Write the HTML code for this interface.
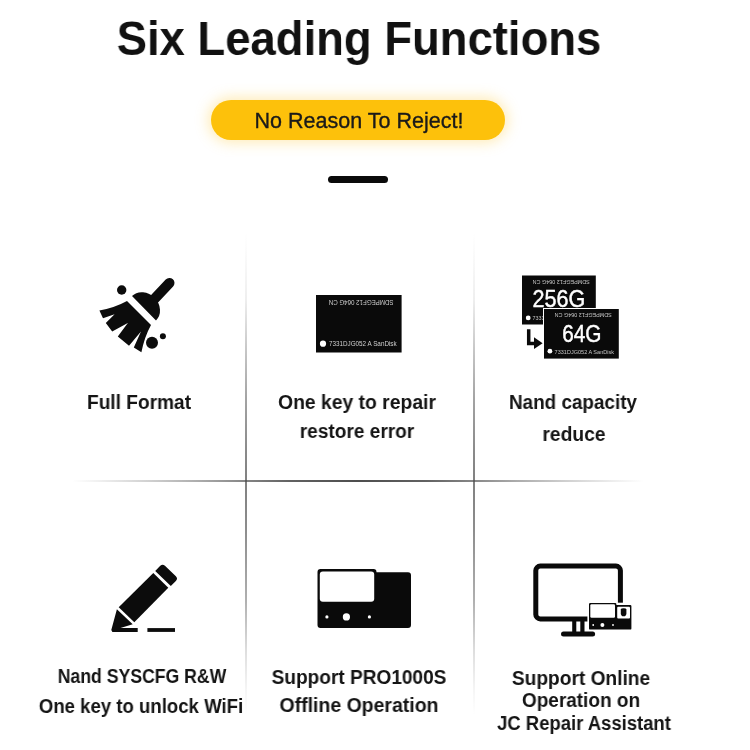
<!DOCTYPE html>
<html lang="en">
<head>
<meta charset="utf-8">
<title>Six Leading Functions</title>
<style>
*{margin:0;padding:0;box-sizing:border-box}
html,body{width:750px;height:750px;background:#fff;overflow:hidden}
body{position:relative;font-family:"Liberation Sans",sans-serif;color:#151515}
.abs{position:absolute}
.t{will-change:transform;position:absolute;white-space:nowrap;text-align:center;font-weight:bold;color:#141414;font-size:19.5px;line-height:20px;transform:translateX(-50%)}
#title{will-change:transform;position:absolute;left:-16.5px;width:750px;top:11.0px;transform:scaleX(0.9465);text-align:center;font-weight:bold;font-size:48px;line-height:56px;color:#111;white-space:nowrap}
#pill{position:absolute;left:210.5px;top:99.8px;width:294.5px;height:39.8px;border-radius:20px;background:#fdc10b;box-shadow:0 0 13px 3px rgba(255,205,70,.38)}
#pt{will-change:transform;position:absolute;white-space:nowrap;left:358.8px;top:109px;font-size:21.5px;line-height:24px;color:#1a1a1a;-webkit-text-stroke:.35px #1a1a1a;transform:translateX(-50%) scaleX(1.001)}
#dash{position:absolute;left:328px;top:176px;width:60px;height:7.2px;border-radius:4px;background:#0a0a0a}
.vl{position:absolute;width:1.9px;top:232px;height:483px;background:linear-gradient(to bottom,rgba(72,72,72,0.000) 0px,rgba(72,72,72,0.020) 18px,rgba(72,72,72,0.090) 68px,rgba(72,72,72,0.310) 118px,rgba(72,72,72,0.505) 168px,rgba(72,72,72,0.635) 218px,rgba(72,72,72,0.690) 248px,rgba(72,72,72,0.625) 298px,rgba(72,72,72,0.435) 368px,rgba(72,72,72,0.185) 418px,rgba(72,72,72,0.050) 458px,rgba(72,72,72,0.000) 483px)}
#hl{position:absolute;height:2px;left:72px;width:572px;top:480px;background:linear-gradient(to right,rgba(72,72,72,0.000) 0px,rgba(72,72,72,0.085) 28px,rgba(72,72,72,0.260) 78px,rgba(72,72,72,0.460) 128px,rgba(72,72,72,0.670) 174px,rgba(72,72,72,0.860) 218px,rgba(72,72,72,0.970) 286px,rgba(72,72,72,0.860) 354px,rgba(72,72,72,0.670) 398px,rgba(72,72,72,0.460) 444px,rgba(72,72,72,0.260) 494px,rgba(72,72,72,0.085) 544px,rgba(72,72,72,0.000) 572px)}
svg{position:absolute;left:0;top:0;will-change:transform}
</style>
</head>
<body>
<div id="title">Six Leading Functions</div>
<div id="pill"></div>
<div id="pt">No Reason To Reject!</div>
<div id="dash"></div>
<div class="vl" style="left:245px"></div>
<div class="vl" style="left:473px"></div>
<div id="hl"></div>

<svg width="750" height="750" viewBox="0 0 750 750">
<!-- broom -->
<g transform="translate(90,270)" fill="#0c0c0c">
  <line x1="79.4" y1="13" x2="62" y2="31.5" stroke="#0c0c0c" stroke-width="10.2" stroke-linecap="round"/>
  <path d="M42 26 A17.1 14.8 45 0 1 66 50.4 Z"/>
  <path d="M37 31 L61 55 Q54.6 66.6 51.4 82.2 L43.8 77.4 L51 61.4 L39 75.8 L27.8 66.6 L37.8 53 L22.2 61.4 L15.8 53 L24.6 44.2 L13 48.2 L9.4 40.6 Q25 37.6 37 31 Z"/>
  <circle cx="31.7" cy="20" r="4.7"/>
  <circle cx="62" cy="72.7" r="6"/>
  <circle cx="72.9" cy="66.3" r="3"/>
</g>
<!-- pencil -->
<g transform="translate(100,555)" fill="#0c0c0c">
  <path d="M55.2 15.9 L60.27 10.83 A3.3 3.3 0 0 1 64.93 10.83 L75.87 21.37 A3.3 3.3 0 0 1 75.87 26.03 L70.8 31.1 Z"/>
  <path d="M53.3 17.9 L68.3 32.7 L34.3 67.3 L18.7 52.3 Z"/>
  <path d="M16.9 54.3 L32.7 69.3 L20.5 73.1 L37.7 73.1 L37.7 76.9 L12.4 76.9 L11.3 75 Z"/>
  <rect x="47.4" y="73.1" width="27.6" height="3.8"/>
</g>
<!-- chip -->
<g font-family="'Liberation Sans',sans-serif" fill="#cfcfcf" font-size="6.8">
<rect x="316" y="295" width="85.6" height="57.5" fill="#0a0a0a"/>
<circle cx="323" cy="343.7" r="3.1" fill="#fff"/>
<text x="328.9" y="346.2" textLength="67.8" lengthAdjust="spacingAndGlyphs">7331DJG052 A SanDisk</text>
<text transform="rotate(180 361.2 302.1)" x="328.8" y="304.6" textLength="64.9" lengthAdjust="spacingAndGlyphs">SDMPEGF12 064G CN</text>
</g>
<!-- chips 256G / 64G -->
<g font-family="'Liberation Sans',sans-serif" fill="#c6c6c6" font-size="6.2">
<rect x="522" y="275.5" width="73.8" height="49" fill="#0a0a0a"/>
<text transform="rotate(180 561.2 282)" x="532.6" y="284.3" textLength="57.2" lengthAdjust="spacingAndGlyphs">SDMPEGF12 064G CN</text>
<circle cx="528.2" cy="317.9" r="2.4" fill="#fff"/>
<text x="532.6" y="320.2" textLength="58" lengthAdjust="spacingAndGlyphs">7331DJG052 A SanDisk</text>
<text x="532.6" y="307.3" font-size="23.2" fill="#fff" stroke="#fff" stroke-width=".45" textLength="52.8" lengthAdjust="spacingAndGlyphs">256G</text>
<rect x="543" y="308" width="76.2" height="51" fill="#fff"/>
<rect x="544" y="309" width="74.8" height="49.6" fill="#0a0a0a"/>
<text transform="rotate(180 583.2 315.2)" x="554.6" y="317.5" textLength="57.2" lengthAdjust="spacingAndGlyphs">SDMPEGF12 064G CN</text>
<circle cx="549.9" cy="351.2" r="2.4" fill="#fff"/>
<text x="554.6" y="353.5" textLength="59.4" lengthAdjust="spacingAndGlyphs">7331DJG052 A SanDisk</text>
<text x="562.2" y="342.1" font-size="23.2" fill="#fff" stroke="#fff" stroke-width=".45" textLength="39.3" lengthAdjust="spacingAndGlyphs">64G</text>
<path d="M528.7 329.3 V343.4 H535" fill="none" stroke="#0a0a0a" stroke-width="3.5"/>
<path d="M534 337.2 L542.6 343.2 L534 349 Z" fill="#0a0a0a"/>
</g>
<!-- device -->
<g fill="#0a0a0a">
  <path d="M320.5 569 H373.5 Q376.5 569 376.5 572.3 H408 Q411 572.3 411 575.3 V625 Q411 628 408 628 H320.5 Q317.5 628 317.5 625 V572 Q317.5 569 320.5 569 Z"/>
  <rect x="319.8" y="571.4" width="54.4" height="30.3" rx="3" fill="#fff"/>
  <circle cx="326.9" cy="616.9" r="1.6" fill="#fff"/>
  <circle cx="346.4" cy="616.9" r="3.6" fill="#fff"/>
  <circle cx="369.4" cy="616.9" r="1.6" fill="#fff"/>
</g>
<!-- monitor -->
<g>
  <rect x="535.8" y="566.1" width="84.6" height="52.8" rx="4.5" fill="none" stroke="#0a0a0a" stroke-width="5"/>
  <rect x="572.2" y="620" width="4.1" height="12.5" fill="#0a0a0a"/>
  <rect x="580.3" y="620" width="4.2" height="12.5" fill="#0a0a0a"/>
  <line x1="563.5" y1="634" x2="592.6" y2="634" stroke="#0a0a0a" stroke-width="5" stroke-linecap="round"/>
  <rect x="587.4" y="602.7" width="44.8" height="27.9" fill="#fff"/>
  <path d="M590.2 603 H615.2 Q616.4 603 616.4 604.2 V604.9 H630.2 Q631.4 604.9 631.4 606.1 V628.4 Q631.4 629.6 630.2 629.6 H590.2 Q589 629.6 589 628.4 V604.2 Q589 603 590.2 603 Z" fill="#0a0a0a"/>
  <rect x="590.3" y="604.3" width="24.7" height="13.4" rx="1.2" fill="#fff"/>
  <rect x="617.2" y="606.8" width="12.8" height="11.6" rx="1" fill="#fff"/>
  <path d="M620.8 609.6 Q620.8 608.2 623.6 608.2 Q626.4 608.2 626.4 609.6 V613.2 Q626.4 616.3 623.6 616.3 Q620.8 616.3 620.8 613.2 Z" fill="#0a0a0a"/>
  <circle cx="593.2" cy="625" r=".9" fill="#fff"/>
  <circle cx="602.4" cy="625" r="2" fill="#fff"/>
  <circle cx="613" cy="625" r=".9" fill="#fff"/>
</g>
</svg>

<div class="t" id="t1" style="left:139.0px;top:391.8px;transform:translateX(-50%) scaleX(0.9794)">Full Format</div>
<div class="t" id="t2a" style="left:357.1px;top:392.2px;transform:translateX(-50%) scaleX(0.9913)">One key to repair</div>
<div class="t" id="t2b" style="left:357.3px;top:421.4px;transform:translateX(-50%) scaleX(0.9778)">restore error</div>
<div class="t" id="t3a" style="left:573.3px;top:392.2px;transform:translateX(-50%) scaleX(0.9683)">Nand capacity</div>
<div class="t" id="t3b" style="left:574.0px;top:423.7px;transform:translateX(-50%) scaleX(0.9882)">reduce</div>
<div class="t" id="t4a" style="left:141.9px;top:666.4px;transform:translateX(-50%) scaleX(0.9044)">Nand SYSCFG R&amp;W</div>
<div class="t" id="t4b" style="left:140.9px;top:696.4px;transform:translateX(-50%) scaleX(0.9533)">One key to unlock WiFi</div>
<div class="t" id="t5a" style="left:359.0px;top:666.8px;transform:translateX(-50%) scaleX(0.9775)">Support PRO1000S</div>
<div class="t" id="t5b" style="left:359.0px;top:694.8px;transform:translateX(-50%) scaleX(0.9988)">Offline Operation</div>
<div class="t" id="t6a" style="left:581.0px;top:667.7px;transform:translateX(-50%) scaleX(0.9817)">Support Online</div>
<div class="t" id="t6b" style="left:581.2px;top:689.8px;transform:translateX(-50%) scaleX(0.9736)">Operation on</div>
<div class="t" id="t6c" style="left:583.6px;top:713.2px;transform:translateX(-50%) scaleX(0.9468)">JC Repair Assistant</div>
</body>
</html>
